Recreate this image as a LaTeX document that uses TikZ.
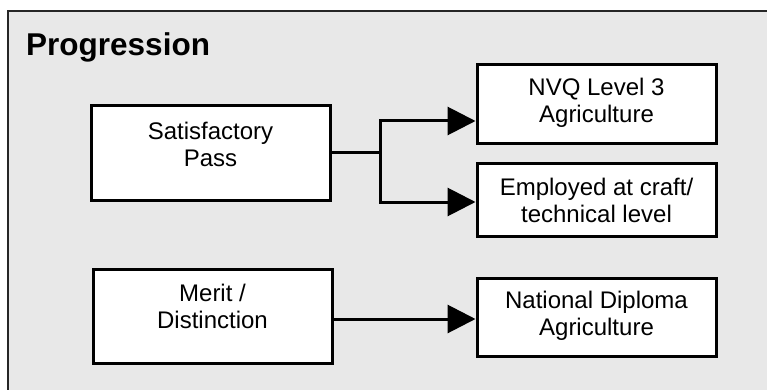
\documentclass[tikz,border=0pt]{standalone}
\usepackage{fontspec}
\setmainfont{Liberation Sans}
\usetikzlibrary{arrows.meta}
\definecolor{panelgrey}{HTML}{E8E8E8}
\tikzset{
  box/.style={draw=black, fill=white, line width=3pt, rectangle, inner sep=0pt, minimum width=239pt},
  lbl/.style={align=center, inner sep=0pt, anchor=base, font=\fontsize{24}{27}\selectfont},
  conn/.style={line width=3pt, draw=black},
  arr/.style={conn, -{Triangle[length=28pt,width=28pt]}},
}
\begin{document}
\begin{tikzpicture}[x=1pt,y=-1pt]
\useasboundingbox (0,0) rectangle (767,390);
\begin{scope}
\clip (0,0) rectangle (767,390);
\draw[fill=panelgrey, draw=black!85, line width=2pt] (8,11) rectangle (790,410);
\end{scope}
\node[anchor=base west, inner sep=0pt, font=\fontsize{31.5}{36}\selectfont\bfseries] (title) at (26,56) {Progression};
% boxes
\node[box, minimum height=94pt] (sat) at (210.5,153) {};
\node[box, minimum height=94pt] (mer) at (212.5,316) {};
\node[box, minimum height=79pt] (nvq) at (596.5,104.5) {};
\node[box, minimum height=73pt] (emp) at (596.5,199.5) {};
\node[box, minimum height=78pt] (nd) at (596.5,317) {};
% labels (anchor base = baseline of last line)
\node[lbl] (satt) at (210.5,166) {Satisfactory\\Pass};
\node[lbl] (mert) at (212.5,328) {Merit /\\Distinction};
\node[lbl] (nvqt) at (596.5,123) {NVQ Level 3\\Agriculture};
\node[lbl] (empt) at (596.5,222) {Employed at craft/\\technical level};
\node[lbl] (ndt) at (596.5,335) {National Diploma\\Agriculture};
% connectors
\coordinate (jm) at (380,153);
\coordinate (jt) at (380,121);
\coordinate (jb) at (380,202);
\coordinate (mj) at (332,319);
\draw[conn] (sat.east) -- (jm);
\draw[conn, line cap=rect] (jt) -- (jb);
\draw[arr] (jt) -- (jt -| nvq.west);
\draw[arr] (jb) -- (jb -| emp.west);
\draw[arr] (mj) -- (mj -| nd.west);
\end{tikzpicture}
\end{document}
